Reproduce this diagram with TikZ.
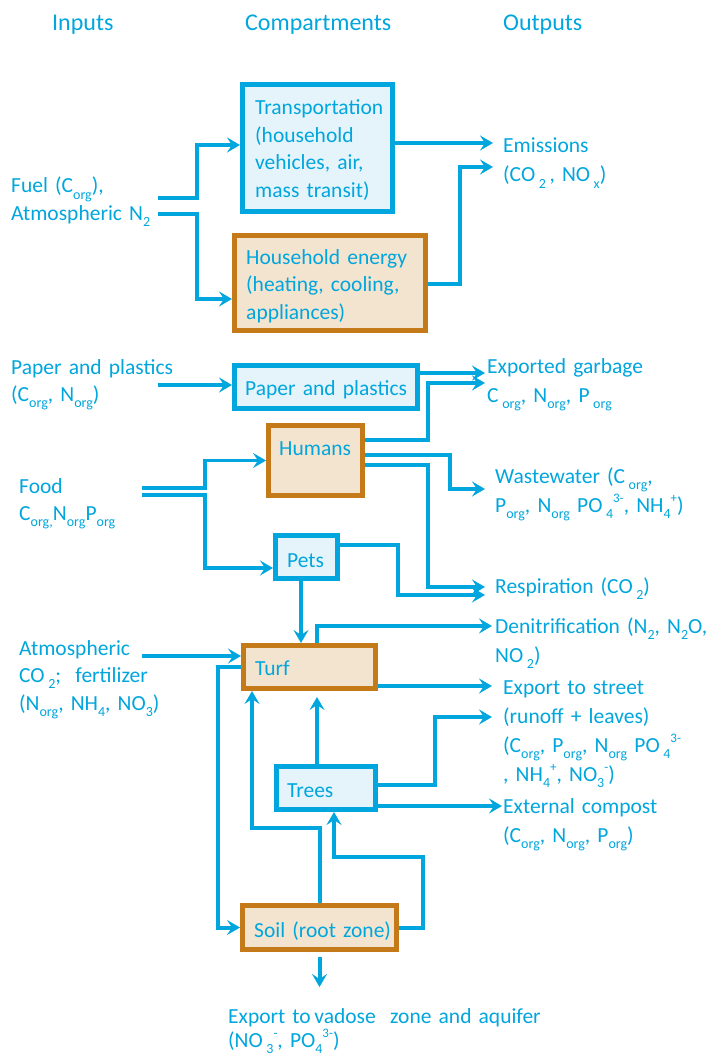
\documentclass[tikz,border=0pt]{standalone}
\usepackage{fontspec}
\setmainfont{Carlito}
\usetikzlibrary{arrows.meta,calc}
\definecolor{flowblue}{RGB}{0,166,221}
\definecolor{boxbrown}{RGB}{196,122,24}
\definecolor{tanfill}{RGB}{243,228,208}
\definecolor{icefill}{RGB}{229,244,251}
% chemical sub- and superscripts
\newcommand{\sbs}[1]{\raisebox{-0.3em}{\fontsize{14}{14}\selectfont #1}}
\newcommand{\sps}[1]{\raisebox{0.45em}{\fontsize{13}{13}\selectfont #1}}
% keep line spacing fixed even with raised indices
\newcommand{\tightlines}{\lineskiplimit-100pt\relax}

\begin{document}
\begin{tikzpicture}[x=1pt,y=-1pt,
  txt/.style={anchor=base west,inner sep=0pt,text=flowblue,text width=300pt,align=left,
    font=\fontsize{21.5}{27.5}\selectfont\tightlines},
  outtxt/.style={txt,font=\fontsize{21.5}{29}\selectfont\tightlines},
  head/.style={anchor=base west,inner sep=0pt,text=flowblue,font=\fontsize{24}{28}\selectfont},
  cbox/.style={draw=flowblue,fill=icefill,line width=5pt,inner sep=0pt},
  bbox/.style={draw=boxbrown,fill=tanfill,line width=5pt,inner sep=0pt},
  flow/.style={draw=flowblue,line width=4pt,-{Stealth[length=13pt,width=15pt,inset=5pt]}},
]
\fill[white] (0,0) rectangle (712,1059);
\useasboundingbox (0,0) rectangle (712,1059);

% column headings
\node[head] (hin) at (52,31) {Inputs};
\node[head] (hcomp) at (245,31) {Compartments};
\node[head] (hout) at (503,31) {Outputs};

% compartments
\node[cbox,minimum width=150pt,minimum height=127pt] (transp) at (317.5,148) {};
\node[bbox,minimum width=191pt,minimum height=95pt] (henergy) at (330,283) {};
\node[cbox,minimum width=183pt,minimum height=43pt] (paper) at (326,387) {};
\node[bbox,minimum width=94pt,minimum height=70pt] (humans) at (315.5,460.5) {};
\node[cbox,minimum width=62pt,minimum height=43pt] (pets) at (306.5,557) {};
\node[bbox,minimum width=132pt,minimum height=43pt] (turf) at (309.5,667) {};
\node[cbox,minimum width=99pt,minimum height=43pt] (trees) at (326,788) {};
\node[bbox,minimum width=154pt,minimum height=44pt] (soil) at (319.5,927.5) {};

\node[txt] (tTransp) at (255,115) {Transportation\\(household\\vehicles, air,\\mass transit)};
\node[txt] (tHen) at (246,264) {Household energy\\(heating, cooling,\\appliances)};
\node[txt] (tPaper) at (245,395) {Paper and plastics};
\node[txt] (tHum) at (279,455) {Humans};
\node[txt] (tPets) at (287,567) {Pets};
\node[txt] (tTurf) at (255,675) {Turf};
\node[txt] (tTrees) at (287,797) {Trees};
\node[txt] (tSoil) at (254,937) {Soil (root zone)};

% inputs
\node[txt] (inFuel) at (11,193) {Fuel (C\sbs{org}),\\Atmospheric N\sbs{2}};
\node[txt] (inPaper) at (11,374) {Paper and plastics\\(C\sbs{org}, N\sbs{org})};
\node[txt] (inFood) at (19,493) {Food\\C\sbs{org,}N\sbs{org}P\sbs{org}};
\node[txt] (inAtm) at (19,655) {Atmospheric\\CO\,\sbs{2};\ \ fertilizer\\(N\sbs{org}, NH\sbs{4}, NO\sbs{3})};

% outputs
\node[outtxt] (outEm) at (503,153) {Emissions\\(CO\,\sbs{2}\,, NO\,\sbs{x})};
\node[outtxt] (outGarb) at (487,373) {Exported garbage\\C\,\sbs{org}, N\sbs{org}, P\,\sbs{org}};
\node[outtxt] (outWaste) at (495,483) {Wastewater (C\,\sbs{org},\\P\sbs{org}, N\sbs{org} PO\,\sbs{4}\sps{3-}, NH\sbs{4}\sps{+})};
\node[outtxt] (outResp) at (495,593) {Respiration (CO\,\sbs{2})};
\node[outtxt] (outDen) at (495,633) {Denitrification (N\sbs{2}, N\sbs{2}O,\\NO\,\sbs{2})};
\node[outtxt] (outStreet) at (503,694) {Export to street\\(runoff + leaves)\\(C\sbs{org}, P\sbs{org}, N\sbs{org} PO\,\sbs{4}\sps{3-}\\, NH\sbs{4}\sps{+}, NO\sbs{3}\sps{-})};
\node[outtxt] (outComp) at (503,813) {External compost\\(C\sbs{org}, N\sbs{org}, P\sbs{org})};
\node[txt,text width=440pt,font=\fontsize{21.5}{24.5}\selectfont\tightlines] (outVad) at (228,1023)
  {Export to\,vadose\ \ zone and aquifer\\(NO\,\sbs{3}\sps{-}, PO\sbs{4}\sps{3-})};

% free ends of the flows
\coordinate (fuelA) at (158,198);
\coordinate (fuelB) at (158,214);
\coordinate (paperIn) at (158,385);
\coordinate (foodA) at (142,488);
\coordinate (foodB) at (142,495);
\coordinate (atmIn) at (142,656);
\coordinate (emA) at (493,143);
\coordinate (emB) at (493,167);
\coordinate (garbA) at (485,373);
\coordinate (garbB) at (485,383);
\coordinate (wasteT) at (485,489);
\coordinate (respA) at (485,587);
\coordinate (respB) at (485,595);
\coordinate (denT) at (492,626);
\coordinate (streetA) at (492,686);
\coordinate (streetB) at (492,717);
\coordinate (compT) at (502,806);
\coordinate (vadT) at (319.5,987);

% input flows
\draw[flow] (fuelA) -- (197,198) |- ($(transp.west)+(0,-3)$);
\draw[flow] (fuelB) -- (197,214) |- ($(henergy.west)+(0,16)$);
\draw[flow] (paperIn) -- (paperIn -| paper.west);
\draw[flow,line width=3.2pt] (foodA) -- (205,488) |- (humans.west);
\draw[flow,line width=3.2pt] (foodB) -- (205,495) |- ($(pets.west)+(0,11)$);
\draw[flow] (atmIn) -- (atmIn -| turf.west);

% output flows
\draw[flow] (transp.east |- emA) -- (emA);
\draw[flow] ($(henergy.east)+(0,1)$) -- (460,284) |- (emB);
\draw[flow] (paper.east |- garbA) -- (garbA);
\draw[flow] ($(humans.east)+(0,-20.5)$) -- (428,440) |- (garbB);
\draw[flow] ($(humans.east)+(0,-5.5)$) -- (450,455) |- (wasteT);
\draw[flow] ($(humans.east)+(0,4.5)$) -- (428,465) |- (respA);
\draw[flow] ($(pets.east)+(0,-12)$) -- (398,545) |- (respB);
\draw[flow] ($(turf.north)+(7.5,0)$) |- (denT);
\draw[flow] (turf.east |- streetA) -- (streetA);
\draw[flow] ($(trees.east)+(0,-3)$) -- (435,785) |- (streetB);
\draw[flow] (trees.east |- compT) -- (compT);
\draw[flow,shorten <=5pt] (soil.south) -- (vadT);

% internal flows
\draw[flow] ($(pets.south)+(-5.5,0)$) coordinate (pd) -- (pd |- turf.north);
\draw[flow,shorten >=6pt] ($(trees.north)+(-9,0)$) coordinate (tu) -- (tu |- turf.south);
\draw[flow] (turf.west) -- (218,667) |- (soil.west);
\draw[flow] (soil.north) -- (319.5,828) -| ($(turf.south)+(-57.5,0)$);
\draw[flow] (soil.east) -- (423,927.5) -- (423,857) -| ($(trees.south)+(8,0)$);
\end{tikzpicture}
\end{document}
